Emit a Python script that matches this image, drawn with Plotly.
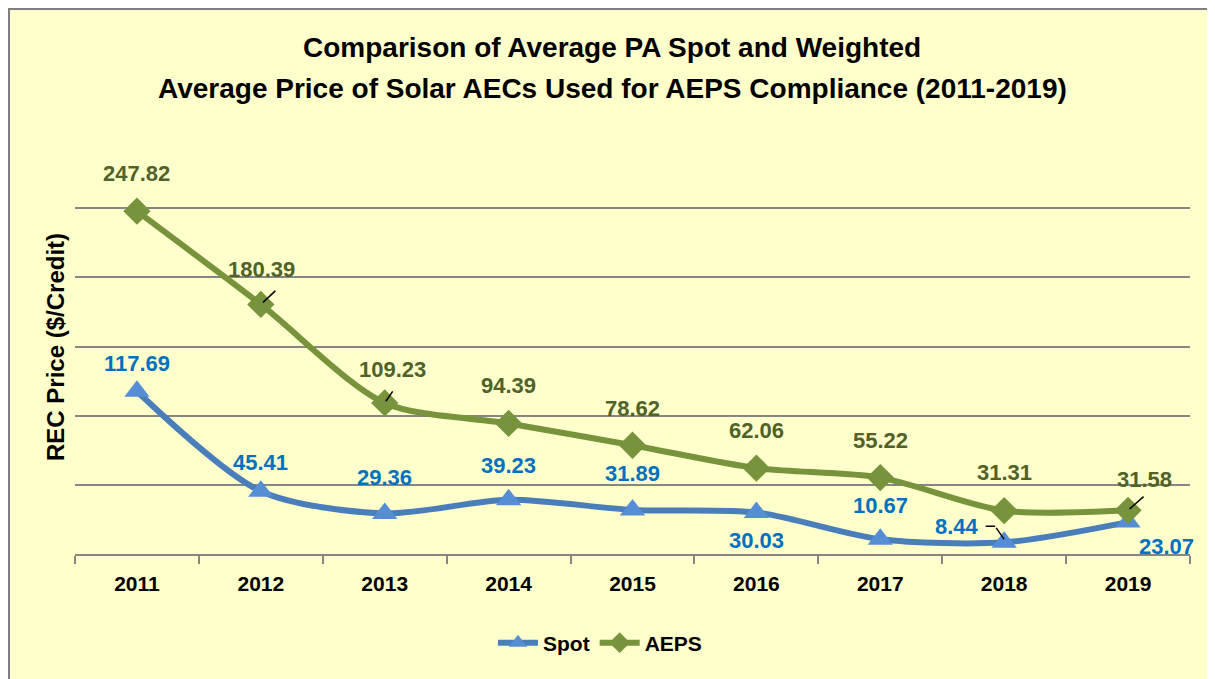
import plotly.graph_objects as go

years = ["2011", "2012", "2013", "2014", "2015", "2016", "2017", "2018", "2019"]
spot = [117.69, 45.41, 29.36, 39.23, 31.89, 30.03, 10.67, 8.44, 23.07]
aeps = [247.82, 180.39, 109.23, 94.39, 78.62, 62.06, 55.22, 31.31, 31.58]
spot_labels = ["117.69", "45.41", "29.36", "39.23", "31.89", "30.03", "10.67", "8.44", "23.07"]
aeps_labels = ["247.82", "180.39", "109.23", "94.39", "78.62", "62.06", "55.22", "31.31", "31.58"]

FONT = "Liberation Sans, Arial, sans-serif"
SPOT_LINE = "#4A7EBB"
SPOT_MARK = "#558ED5"
AEPS_COL = "#77933C"

fig = go.Figure()
fig.add_trace(go.Scatter(
    x=years, y=spot, name="Spot", mode="lines+markers",
    line=dict(color=SPOT_LINE, width=6, shape="spline", smoothing=0.8),
    marker=dict(symbol="triangle-up", size=22, color=SPOT_MARK),
))
fig.add_trace(go.Scatter(
    x=years, y=aeps, name="AEPS", mode="lines+markers",
    line=dict(color=AEPS_COL, width=6, shape="spline", smoothing=0.8),
    marker=dict(symbol="diamond", size=21, color=AEPS_COL),
))

ann = []
aeps_off = [(0, 38), (1, 35), (8, 33), (0, 38), (0, 37), (0, 38), (0, 37), (0, 38), (16, 31)]
spot_off = [(0, 28), (0, 29), (0, 36), (0, 34), (0, 36), (0, -28), (0, 34), (-47, 16), (38, -24)]
for i, yr in enumerate(years):
    dx, dy = aeps_off[i]
    ann.append(dict(x=i, y=aeps[i], text=aeps_labels[i], showarrow=False,
                    xshift=dx, yshift=dy,
                    font=dict(family=FONT, size=22, color="#4F6228", weight="bold")))
    dx, dy = spot_off[i]
    ann.append(dict(x=i, y=spot[i], text=spot_labels[i], showarrow=False,
                    xshift=dx, yshift=dy,
                    font=dict(family=FONT, size=22, color="#0070C0", weight="bold")))

# leader lines
leaders = [
    (1, aeps[1], 0, 0, 16, -15, 3),
    (2, aeps[2], 0, 0, 9, -13, 2),
    (8, aeps[8], 0, 0, 17, -15, 2),
    (7, spot[7], -9, 16, -11, 0, 0),
    (7, spot[7], 0, 3, -9, -13, 0),
]
for x, y, xs, ys, ax, ay, so in leaders:
    ann.append(dict(x=x, y=y, text="", showarrow=True, xshift=xs, yshift=ys,
                    ax=ax, ay=ay, arrowhead=0, arrowwidth=1.5, arrowcolor="black",
                    standoff=so))

# paper coordinates from window pixels (plot area 75..1190 x, 139..554 y)
def py(p):
    return (554 - p) / 415

def px(p):
    return (p - 75) / 1115

ann.append(dict(xref="paper", yref="paper", x=px(612), y=py(47),
                text="Comparison of Average PA Spot and Weighted", showarrow=False,
                xanchor="center", yanchor="middle",
                font=dict(family=FONT, size=28, color="black", weight="bold")))
ann.append(dict(xref="paper", yref="paper", x=px(612), y=py(88),
                text="Average Price of Solar AECs Used for AEPS Compliance (2011-2019)",
                showarrow=False, xanchor="center", yanchor="middle",
                font=dict(family=FONT, size=28, color="black", weight="bold")))
ann.append(dict(xref="paper", yref="paper", x=px(55), y=py(347),
                text="REC Price ($/Credit)", showarrow=False, textangle=-90,
                xanchor="center", yanchor="middle",
                font=dict(family=FONT, size=24, color="black", weight="bold")))

fig.update_layout(
    width=1207, height=671,
    margin=dict(l=67, r=25, t=131, b=125, autoexpand=False),
    paper_bgcolor="white",
    plot_bgcolor="rgba(0,0,0,0)",
    showlegend=True,
    legend=dict(orientation="h", x=px(600), xanchor="center", y=py(643), yanchor="middle",
                font=dict(family=FONT, size=21, color="black", weight="bold"),
                bgcolor="rgba(0,0,0,0)", itemwidth=40),
    annotations=ann,
    shapes=[dict(type="rect", xref="paper", yref="paper",
                 x0=px(9), x1=px(1225), y0=py(700), y1=py(9),
                 line=dict(color="#7F7F7F", width=2), fillcolor="#FFFFCC", layer="below")],
)
fig.update_xaxes(
    type="category", range=[-0.5, 8.5], automargin=False,
    showline=True, linecolor="#868686", linewidth=2,
    ticks="outside", tickson="boundaries", ticklen=8, tickcolor="#868686", tickwidth=2,
    showgrid=False, ticklabelstandoff=10, tickangle=0,
    tickfont=dict(family=FONT, size=21, color="black", weight="bold"),
)
fig.update_yaxes(
    range=[0, 300], dtick=50, showgrid=True, gridcolor="#868686", gridwidth=1.5,
    showticklabels=False, zeroline=False, showline=False, automargin=False,
)
fig.write_html("out.html")
